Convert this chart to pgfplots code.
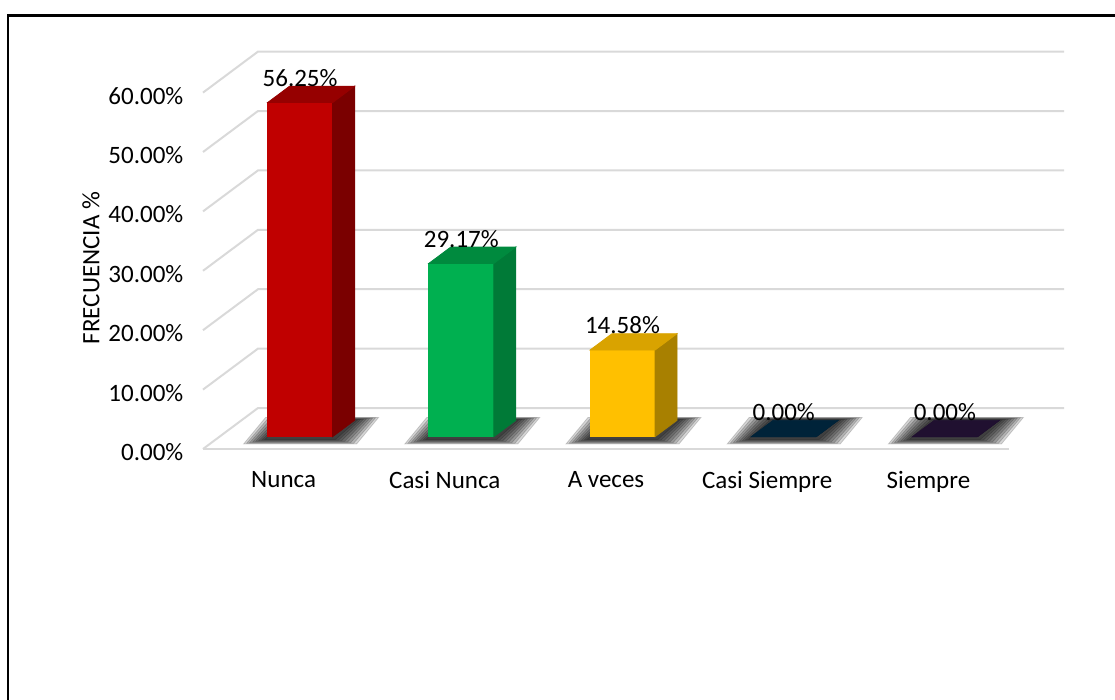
\documentclass[border=0pt]{standalone}
\usepackage{fontspec}
\setmainfont{Carlito}
\usepackage{pgfplots}
\pgfplotsset{compat=1.18}
\usepackage{pgfplotstable}

\definecolor{front0}{HTML}{C00000}
\definecolor{side0}{HTML}{7A0000}
\definecolor{top0}{HTML}{960000}
\definecolor{front1}{HTML}{00B050}
\definecolor{side1}{HTML}{007A37}
\definecolor{top1}{HTML}{008A3E}
\definecolor{front2}{HTML}{FFC000}
\definecolor{side2}{HTML}{A88000}
\definecolor{top2}{HTML}{D9A300}
\definecolor{front3}{HTML}{002339}
\definecolor{side3}{HTML}{001828}
\definecolor{top3}{HTML}{002339}
\definecolor{front4}{HTML}{1F0F33}
\definecolor{side4}{HTML}{150A24}
\definecolor{top4}{HTML}{201030}
\definecolor{gridgray}{HTML}{D9D9D9}

\newcommand\drawbar{%
  \begin{scope}
  \pgfmathtruncatemacro\cj{round(\ci)}%
  \colorlet{fc}{front\cj}\colorlet{sc}{side\cj}\colorlet{tc}{top\cj}%
  \pgfmathsetlengthmacro\hh{\val*2.97pt}%
  \foreach \e in {12,10.5,9,7.5,6,4.5,3,1.5}{%
    \fill[black, opacity=0.16] ({-8pt-\e*1pt},{6.15pt-\hh-1pt-0.22*\e*1pt}) -- ({24.5pt+\e*1pt},{6.15pt-\hh-1pt-0.22*\e*1pt}) -- ({35.5pt+\e*1pt},{14.35pt-\hh+0.12*\e*1pt}) -- ({3pt-\e*1pt},{14.35pt-\hh+0.12*\e*1pt}) -- cycle;
  }%
  \fill[fc] (-8pt,{6.15pt-\hh}) rectangle (24.5pt,6.15pt);
  \fill[sc] (24.5pt,{6.15pt-\hh}) -- (35.5pt,{14.35pt-\hh}) -- (35.5pt,14.35pt) -- (24.5pt,6.15pt) -- cycle;
  \fill[tc] (-8pt,6.15pt) -- (24.5pt,6.15pt) -- (35.5pt,14.35pt) -- (3pt,14.35pt) -- cycle;
  \end{scope}%
}
\pgfdeclareplotmark{bar3d}{\drawbar}

\pgfplotstableread{
x y
0 56.25
1 29.17
2 14.58
3 0.00
4 0.00
}\datatable

\newcommand\lblfont{\fontsize{12.5}{15}\selectfont}

\begin{document}
\begin{tikzpicture}
\useasboundingbox (0,0) rectangle (557.5pt,-350pt);
\draw[line width=1.25pt] (4pt,-352pt) -- (4pt,-7.75pt) -- (560pt,-7.75pt);
\begin{axis}[
  at={(101.5pt,-224.5pt)}, anchor=south west,
  scale only axis, width=403pt, height=178.2pt,
  xmin=-0.5, xmax=4.5, ymin=0, ymax=60,
  clip=false,
  axis line style={draw=none},
  major tick length=0pt,
  tick style={draw=none},
  xtick={0,1,2,3,4},
  xticklabels={Nunca,Casi Nunca,A veces,Casi Siempre,Siempre},
  ytick={0,10,20,30,40,50,60},
  yticklabel={\pgfmathprintnumber[fixed,fixed zerofill,precision=2]{\tick}\%},
  /pgf/number format/assume math mode=true,
  ticklabel style={font=\lblfont},
  yticklabel style={xshift=-6.3pt, yshift=-1.5pt},
  xticklabel style={yshift=-7.8pt},
]
\pgfplotsinvokeforeach{0,10,20,30,40,50,60}{
  \draw[gridgray, line width=1pt] (axis cs:-0.5,#1) -- ++(27.5pt,20.5pt) -- ++(403pt,0pt);
}
\draw[gridgray, line width=1pt] (axis cs:-0.5,0) -- (axis cs:4.5,0);

\addplot[
  only marks, mark=bar3d,
  point meta=y,
  visualization depends on={rawx \as \ci},
  visualization depends on={rawy \as \val},
  nodes near coords={\pgfmathprintnumber[fixed,fixed zerofill,precision=2]{\pgfplotspointmeta}\%},
  every node near coord/.append style={anchor=center, xshift=8.25pt, yshift=18.5pt, font=\lblfont, text=black},
] table[x=x, y=y] {\datatable};
\end{axis}
\node[rotate=90, font=\lblfont] at (45.5pt,-134pt) {FRECUENCIA \%};
\end{tikzpicture}
\end{document}
